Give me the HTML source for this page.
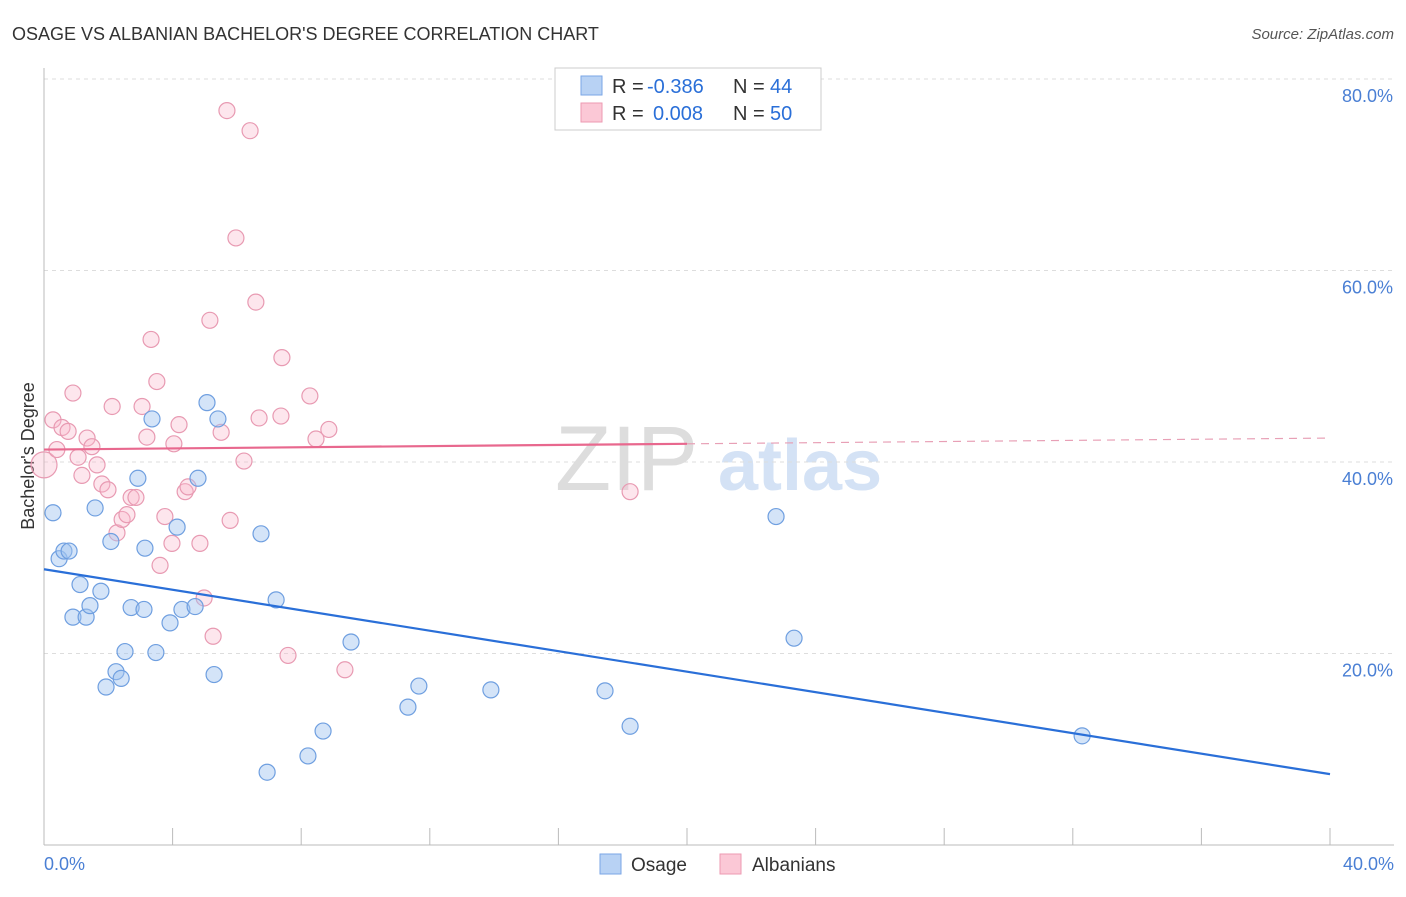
<!DOCTYPE html>
<html><head><meta charset="utf-8"><style>
body{margin:0;background:#fff;font-family:"Liberation Sans",sans-serif}
svg text{font-family:"Liberation Sans",sans-serif}
</style></head><body>
<svg id="c" width="1406" height="892"></svg>
<script>
const blueX=[0.28,0.47,0.62,0.78,0.9,1.12,1.31,1.43,1.59,1.77,1.93,2.08,2.24,2.40,2.52,2.71,2.92,3.11,3.14,3.36,3.48,3.92,4.14,4.29,4.70,4.79,5.07,5.29,5.41,6.75,6.94,7.22,8.21,8.68,9.55,11.32,11.66,13.90,17.45,18.23,22.77,23.33,32.29];
const blueY=[34.7,29.9,30.7,30.7,23.8,27.2,23.8,25.0,35.2,26.5,16.5,31.7,18.1,17.4,20.2,24.8,38.3,24.6,31.0,44.5,20.1,23.2,33.2,24.6,24.9,38.3,46.2,17.8,44.5,32.5,7.6,25.6,9.3,11.9,21.2,14.4,16.6,16.2,16.1,12.4,34.3,21.6,11.4];
const pinkX=[0,0.28,0.40,0.56,0.75,0.90,1.06,1.18,1.34,1.49,1.65,1.80,1.99,2.12,2.27,2.43,2.58,2.71,2.86,3.05,3.20,3.33,3.51,3.61,3.76,3.98,4.04,4.20,4.39,4.48,4.85,4.98,5.16,5.26,5.51,5.69,5.79,5.97,6.22,6.41,6.59,6.69,7.37,7.40,7.59,8.27,8.46,8.86,9.36,18.23];
const pinkY=[39.7,44.4,41.3,43.6,43.2,47.2,40.5,38.6,42.5,41.6,39.7,37.7,37.1,45.8,32.6,34.0,34.5,36.3,36.3,45.8,42.6,52.8,48.4,29.2,34.3,31.5,41.9,43.9,36.9,37.4,31.5,25.8,54.8,21.8,43.1,76.7,33.9,63.4,40.1,74.6,56.7,44.6,44.8,50.9,19.8,46.9,42.4,43.4,18.3,36.9];
const blueTrend=[28.8,7.4];
const pinkTrend=[41.3,42.5];
const yTicks=[20,40,60,80];
const xTickLabels=["0.0%","40.0%"];

const svg=document.getElementById('c');
const NS='http://www.w3.org/2000/svg';
const sx=v=>44+v/40*1286;
const sy=v=>845-v/20*191.5;
function el(t,a,p){const e=document.createElementNS(NS,t);for(const k in a)e.setAttribute(k,a[k]);(p||svg).appendChild(e);return e;}

let t=el('text',{x:12,y:40,'font-size':18,fill:'#333'});t.textContent="OSAGE VS ALBANIAN BACHELOR'S DEGREE CORRELATION CHART";

t=el('text',{x:1394,y:39,'font-size':15,fill:'#555','text-anchor':'end','font-style':'italic'});t.textContent="Source: ZipAtlas.com";


// watermark
t=el('text',{x:555,y:490,'font-size':92,fill:'#ddd','font-family':'Liberation Serif'});t.textContent="ZIP";

t=el('text',{x:718,y:490,'font-size':72,fill:'#d4e2f5','font-weight':'bold'});t.textContent="atlas";


// grid
yTicks.forEach(v=>{
  let g=el('line',{x1:44,x2:1394,y1:sy(v),y2:sy(v),stroke:'#ddd','stroke-dasharray':'4,4'});
  
  let l=el('text',{x:1393,y:sy(v)+23,'font-size':18,fill:'#4a7fd4','text-anchor':'end'});l.textContent=v.toFixed(1)+'%';
  
});
let ax=el('line',{x1:44,x2:44,y1:68,y2:845,stroke:'#bbb'});
ax=el('line',{x1:44,x2:1394,y1:845,y2:845,stroke:'#bbb'});
for(let i=0;i<=10;i++){let k=el('line',{x1:sx(i*4),x2:sx(i*4),y1:828,y2:845,stroke:'#bbb'});}
t=el('text',{x:44,y:870,'font-size':18,fill:'#4a7fd4'});t.textContent=xTickLabels[0];
t=el('text',{x:1394,y:870,'font-size':18,fill:'#4a7fd4','text-anchor':'end'});t.textContent=xTickLabels[1];
t=el('text',{x:34,y:456,'font-size':18,fill:'#333','text-anchor':'middle',transform:'rotate(-90 34 456)'});t.textContent="Bachelor's Degree";


// points
pinkX.forEach((x,i)=>{let c=el('circle',{cx:sx(x),cy:sy(pinkY[i]),r:i===0?13:8,fill:'rgba(248,182,202,0.35)',stroke:'#e89ab2','stroke-width':1.2});
});
blueX.forEach((x,i)=>{let c=el('circle',{cx:sx(x),cy:sy(blueY[i]),r:8,fill:'rgba(160,196,240,0.45)',stroke:'#6f9fe0','stroke-width':1.2});
});

// trends
let ln=el('line',{x1:sx(0),y1:sy(blueTrend[0]),x2:sx(40),y2:sy(blueTrend[1]),stroke:'#2a6fd8','stroke-width':2.2});

const pm=pinkTrend[0]+(pinkTrend[1]-pinkTrend[0])*0.5;
ln=el('line',{x1:sx(0),y1:sy(pinkTrend[0]),x2:sx(20),y2:sy(pm),stroke:'#e8688e','stroke-width':2.2});

ln=el('line',{x1:sx(20),y1:sy(pm),x2:sx(40),y2:sy(pinkTrend[1]),stroke:'#e8a0b6','stroke-width':1.2,'stroke-dasharray':'8,6'});


// legend box
let lg=el('g',{});
el('rect',{x:555,y:68,width:266,height:62,fill:'#fff',stroke:'#ccc'},lg);
el('rect',{x:581,y:76,width:21,height:19,fill:'#b8d2f4',stroke:'#7aa6e6'},lg);
el('rect',{x:581,y:103,width:21,height:19,fill:'#fbc8d6',stroke:'#ec9ab2'},lg);
function lt(x,y,s,c){let e=el('text',{x:x,y:y,'font-size':20,fill:c},lg);e.textContent=s;return e;}
lt(612,93,'R = ','#333');lt(647,93,'-0.386','#2a6fd8');lt(733,93,'N = ','#333');lt(770,93,'44','#2a6fd8');
lt(612,120,'R = ','#333');lt(653,120,'0.008','#2a6fd8');lt(733,120,'N = ','#333');lt(770,120,'50','#2a6fd8');

// bottom legend
let b=el('g',{});
el('rect',{x:600,y:854,width:21,height:20,fill:'#b8d2f4',stroke:'#7aa6e6'},b);
let bt=el('text',{x:631,y:871,'font-size':19,fill:'#333'},b);bt.textContent='Osage';
b=el('g',{});
el('rect',{x:720,y:854,width:21,height:20,fill:'#fbc8d6',stroke:'#ec9ab2'},b);
bt=el('text',{x:752,y:871,'font-size':19,fill:'#333'},b);bt.textContent='Albanians';
</script>
</body></html>
